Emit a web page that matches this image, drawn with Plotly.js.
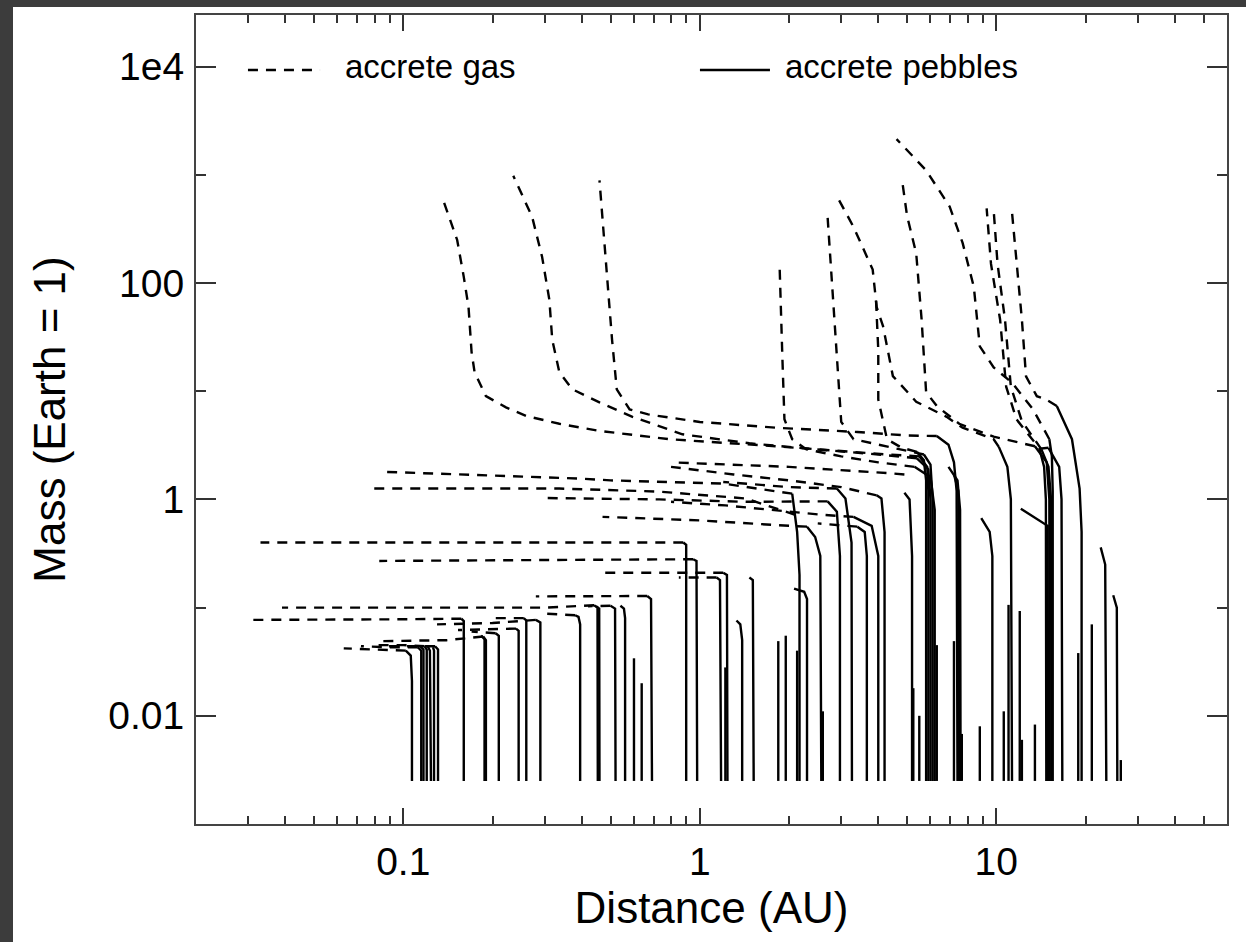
<!DOCTYPE html>
<html>
<head>
<meta charset="utf-8">
<script src="https://cdn.plot.ly/plotly-3.0.1.min.js"></script>
<style>
	html, body { margin: 0; padding: 0; background: #3c3c3c; }
	#sheet { position: absolute; left: 13px; top: 7px; width: 1233px; height: 935px; background: #fff; }
	#graph-0 { width: 1233px; height: 935px; }
</style>
</head>
<body>
<div id="sheet"><div id="graph-0"></div></div>
<script>
// seed mass every embryo starts from (Earth masses)
const M0 = 0.0025;

// solid: pebble accretion, [distance AU, mass Earth]
const pebbleTracks = [
	[[0.102, 0.04], [0.106, 0.036], [0.107, 0.021], [0.107, M0]],
	[[0.112, 0.043], [0.115, 0.04], [0.115, M0]],
	[[0.114, 0.044], [0.117, 0.041], [0.117, M0]],
	[[0.118, 0.044], [0.12, 0.041], [0.12, M0]],
	[[0.121, 0.044], [0.123, 0.04], [0.124, M0]],
	[[0.126, 0.043], [0.127, 0.04], [0.127, M0]],
	[[0.128, 0.044], [0.131, 0.041], [0.131, M0]],
	[[0.157, 0.079], [0.16, 0.075], [0.16, M0]],
	[[0.183, 0.055], [0.188, 0.051], [0.188, M0]],
	[[0.186, 0.054], [0.19, 0.05], [0.19, M0]],
	[[0.205, 0.058], [0.21, 0.055], [0.21, M0]],
	[[0.24, 0.064], [0.245, 0.061], [0.245, M0]],
	[[0.255, 0.08], [0.26, 0.076], [0.26, M0]],
	[[0.28, 0.077], [0.29, 0.073], [0.29, M0]],
	[[0.38, 0.085], [0.39, 0.082], [0.395, 0.07], [0.395, M0]],
	[[0.44, 0.105], [0.452, 0.1], [0.453, M0]],
	[[0.447, 0.103], [0.458, 0.098], [0.459, M0]],
	[[0.5, 0.104], [0.518, 0.098], [0.52, M0]],
	[[0.54, 0.104], [0.555, 0.098], [0.56, 0.08], [0.56, M0]],
	[[0.6, 0.034], [0.6, M0]],
	[[0.637, 0.02], [0.637, M0]],
	[[0.665, 0.128], [0.685, 0.12], [0.69, M0]],
	[[0.88, 0.4], [0.9, 0.38], [0.9, M0]],
	[[0.95, 0.28], [0.975, 0.27], [0.98, M0]],
	[[1.14, 0.19], [1.17, 0.18], [1.18, M0]],
	[[1.2, 0.21], [1.235, 0.2], [1.24, M0]],
	[[1.22, 0.028], [1.22, M0]],
	[[1.33, 0.076], [1.37, 0.07], [1.39, 0.05], [1.39, M0]],
	[[1.47, 0.19], [1.51, 0.18], [1.52, M0]],
	[[1.84, 0.049], [1.84, M0]],
	[[1.95, 0.055], [1.95, M0]],
	[[2.05, 1.13], [2.13, 0.5], [2.17, 0.2], [2.17, M0]],
	[[2.13, 0.04], [2.13, M0]],
	[[2.08, 0.15], [2.25, 0.14], [2.3, 0.12], [2.3, M0]],
	[[2.3, 0.56], [2.45, 0.45], [2.55, 0.3], [2.57, M0]],
	[[2.6, 0.011], [2.6, M0]],
	[[2.7, 0.96], [2.9, 0.77], [2.97, 0.3], [2.97, M0]],
	[[2.9, 1.26], [3.1, 1.02], [3.25, 0.4], [3.26, M0]],
	[[3.3, 0.69], [3.8, 0.57], [4.0, 0.3], [4.0, M0]],
	[[3.4, 0.56], [3.6, 0.5], [3.66, 0.3], [3.66, M0]],
	[[3.95, 1.09], [4.1, 1.02], [4.2, 0.5], [4.2, M0]],
	[[4.9, 1.15], [5.1, 1.0], [5.2, 0.3], [5.2, M0]],
	[[5.25, 0.018], [5.25, M0]],
	[[5.5, 0.01], [5.5, M0]],
	[[5.4, 2.75], [5.7, 2.3], [5.8, 1.5], [5.8, M0]],
	[[5.5, 2.5], [5.85, 2.0], [5.9, 1.2], [5.9, M0]],
	[[5.4, 2.4], [5.9, 1.9], [6.0, 1.0], [6.0, M0]],
	[[5.7, 2.6], [6.0, 2.1], [6.1, 1.0], [6.1, M0]],
	[[5.3, 2.0], [6.0, 1.6], [6.2, 0.8], [6.2, M0]],
	[[6.3, 0.045], [6.3, M0]],
	[[6.3, 3.85], [6.9, 3.2], [7.2, 2.2], [7.35, 1.2], [7.4, M0]],
	[[7.2, 1.7], [7.45, 1.2], [7.5, M0]],
	[[6.9, 2.0], [7.4, 1.5], [7.55, 0.8], [7.58, M0]],
	[[7.2, 0.049], [7.2, M0]],
	[[7.65, 0.0068], [7.65, M0]],
	[[8.8, 0.008], [8.8, M0]],
	[[8.9, 0.67], [9.5, 0.5], [9.7, 0.3], [9.7, M0]],
	[[10.6, 0.011], [10.6, M0]],
	[[11.0, 0.106], [11.0, M0]],
	[[10.2, 3.06], [10.9, 2.0], [11.2, 1.0], [11.3, M0]],
	[[12.0, 0.093], [12.0, M0]],
	[[12.2, 0.006], [12.2, M0]],
	[[13.5, 0.0083], [13.5, M0]],
	[[14.0, 2.9], [14.5, 2.0], [14.7, 1.0], [14.75, M0]],
	[[12.1, 0.82], [14.9, 0.57], [14.95, M0]],
	[[13.5, 3.1], [14.8, 2.2], [15.1, 1.0], [15.15, M0]],
	[[15.1, 3.6], [15.4, 2.5], [15.5, 1.2], [15.5, M0]],
	[[14.2, 2.9], [15.0, 2.0], [15.3, 1.0], [15.35, M0]],
	[[15.0, 3.0], [16.3, 2.0], [16.6, 1.0], [16.7, M0]],
	[[18.9, 0.038], [18.9, M0]],
	[[16.0, 7.3], [18.0, 3.6], [19.1, 1.26], [19.4, 0.5], [19.4, M0]],
	[[21, 0.07], [21, M0]],
	[[22.5, 0.36], [23.3, 0.25], [23.5, M0]],
	[[24.8, 0.13], [25.5, 0.1], [25.6, M0]],
	[[26.3, 0.0039], [26.3, M0]],
];

// dashed: gas accretion while migrating inward, [distance AU, mass Earth]
const gasTracks = [
	[[5.5, 2.5], [4.3, 2.6], [1.8, 3.1], [0.79, 3.6], [0.459, 4.3], [0.336, 5.0], [0.26, 5.9], [0.222, 7.1], [0.19, 9], [0.174, 15], [0.17, 23], [0.166, 60], [0.16, 114], [0.152, 250], [0.136, 596]],
	[[5.4, 2.4], [4.0, 2.6], [2.48, 2.9], [1.47, 3.3], [0.874, 4.0], [0.593, 5.8], [0.459, 7.9], [0.372, 10.4], [0.336, 15], [0.318, 30], [0.311, 70], [0.294, 174], [0.272, 410], [0.235, 980]],
	[[6.3, 3.85], [5.0, 3.9], [3.4, 4.2], [1.8, 4.6], [1.0, 5.2], [0.67, 6.1], [0.58, 6.8], [0.525, 10.4], [0.506, 30], [0.483, 163], [0.459, 890]],
	[[5.3, 2.0], [4.0, 2.2], [3.0, 2.5], [2.29, 2.9], [2.05, 3.6], [1.93, 5.5], [1.9, 20], [1.88, 60], [1.86, 137]],
	[[5.7, 2.6], [4.5, 3.0], [3.3, 3.6], [3.0, 5.2], [2.9, 20], [2.8, 100], [2.7, 400]],
	[[10.2, 3.06], [9.8, 3.6], [7.7, 4.6], [6.8, 5.8], [5.37, 8.0], [4.48, 13.8], [4.15, 40], [3.95, 60], [3.83, 133], [3.3, 330], [2.87, 670]],
	[[5.4, 2.75], [4.8, 3.0], [4.28, 3.6], [4.0, 8.4], [4.0, 24], [3.93, 70]],
	[[13.5, 3.1], [9.8, 3.8], [7.5, 5.0], [6.3, 7.3], [5.8, 9.8], [5.6, 46], [5.37, 188], [5.0, 420], [4.83, 830]],
	[[15.1, 3.6], [13.3, 6.8], [11.3, 12], [9.8, 16.6], [8.8, 26], [8.4, 92], [7.7, 235], [6.96, 510], [5.8, 1100], [4.61, 2140]],
	[[15.0, 3.0], [14.0, 2.94], [11.7, 5.5], [10.8, 11], [10.3, 46], [9.6, 150], [9.28, 490]],
	[[14.2, 2.9], [12.2, 5.3], [11.2, 11], [10.7, 46], [10.1, 150], [9.8, 470]],
	[[16.0, 7.3], [14.7, 8.4], [13.7, 9], [12.6, 13.7], [12.2, 46], [11.7, 150], [11.3, 450]],
	[[2.05, 1.13], [1.2, 1.4], [0.5, 1.5], [0.39, 1.56], [0.085, 1.8]],
	[[2.1, 0.72], [1.43, 1.02], [0.73, 1.18], [0.336, 1.26], [0.078, 1.26]],
	[[2.7, 0.96], [1.43, 0.95], [0.73, 1.0], [0.3, 1.03]],
	[[2.3, 0.56], [2.0, 0.57], [1.0, 0.64], [0.47, 0.69]],
	[[3.3, 0.69], [2.6, 0.72], [1.22, 0.88], [0.8, 0.95]],
	[[3.4, 0.56], [2.5, 0.6]],
	[[2.9, 1.26], [2.0, 1.3], [1.2, 1.45]],
	[[3.95, 1.09], [3.0, 1.3], [2.0, 1.5], [1.3, 1.7], [0.8, 2.0]],
	[[4.9, 1.7], [4.3, 1.75], [2.0, 2.0], [0.8, 2.2]],
	[[0.102, 0.04], [0.08, 0.041], [0.063, 0.042]],
	[[0.112, 0.043], [0.09, 0.043], [0.072, 0.044]],
	[[0.118, 0.044], [0.1, 0.045], [0.078, 0.045]],
	[[0.128, 0.044], [0.1, 0.044], [0.085, 0.044]],
	[[0.157, 0.079], [0.1, 0.078], [0.031, 0.077]],
	[[0.186, 0.054], [0.14, 0.05], [0.084, 0.049]],
	[[0.205, 0.058], [0.17, 0.06]],
	[[0.24, 0.064], [0.2, 0.063], [0.153, 0.062]],
	[[0.255, 0.08], [0.2, 0.08]],
	[[0.28, 0.077], [0.2, 0.072], [0.13, 0.07]],
	[[0.38, 0.085], [0.3, 0.088]],
	[[0.44, 0.105], [0.3, 0.1], [0.039, 0.1]],
	[[0.5, 0.104], [0.42, 0.103]],
	[[0.665, 0.128], [0.4, 0.128], [0.28, 0.127]],
	[[0.88, 0.4], [0.3, 0.4], [0.033, 0.4]],
	[[0.95, 0.28], [0.3, 0.275], [0.083, 0.27]],
	[[1.14, 0.19], [0.85, 0.19]],
	[[1.2, 0.21], [0.8, 0.21], [0.47, 0.21]],
];

const xTickVals = [0.1, 1, 10];
const xTickText = ["0.1", "1", "10"];
const xMinorVals = [
	0.03, 0.04, 0.05, 0.06, 0.07, 0.08, 0.09,
	0.2, 0.3, 0.4, 0.5, 0.6, 0.7, 0.8, 0.9,
	2, 3, 4, 5, 6, 7, 8, 9,
	20, 30, 40, 50,
];
const yTickVals = [0.01, 1, 100, 10000];
const yTickText = ["0.01", "1", "100", "1e4"];
const yMinorVals = [0.001, 0.1, 10, 1000];
const legendLabels = ["accrete gas", "accrete pebbles"];

const FONT = "Liberation Sans, Arial, Helvetica, sans-serif";
const DASH = "10px,8px";
const LINE_W = 2.4;
const graphDiv = document.getElementById("graph-0");

// join tracks into one trace, null between tracks so each is its own path
function joinTracks(tracks) {
	const x = [];
	const y = [];
	tracks.forEach(track => {
		track.forEach(([d, m]) => {
			x.push(d);
			y.push(m);
		});
		x.push(null);
		y.push(null);
	});
	return { x, y };
}

const gas = joinTracks(gasTracks);
const pebbles = joinTracks(pebbleTracks);

const traces = [
	{
		...gas,
		type: "scatter",
		mode: "lines",
		name: legendLabels[0],
		connectgaps: false,
		line: { color: "#000", width: LINE_W, dash: DASH },
	},
	{
		...pebbles,
		type: "scatter",
		mode: "lines",
		name: legendLabels[1],
		connectgaps: false,
		line: { color: "#000", width: LINE_W },
	},
];

// legend drawn by hand: sample line + label, in paper coords
const legendKeys = [
	{ x0: 0.0504, x1: 0.1203, tx: 0.1426, dash: DASH },
	{ x0: 0.4888, x1: 0.5567, tx: 0.5693, dash: "solid" },
];
const legendY = 0.932;

const shapes = legendKeys.map(k => ({
	type: "line",
	xref: "paper",
	yref: "paper",
	x0: k.x0,
	x1: k.x1,
	y0: legendY,
	y1: legendY,
	line: { color: "#000", width: LINE_W, dash: k.dash },
}));

const annotations = legendKeys.map((k, i) => ({
	xref: "paper",
	yref: "paper",
	x: k.tx,
	y: legendY + 0.004,
	xanchor: "left",
	yanchor: "middle",
	showarrow: false,
	text: legendLabels[i],
	font: { family: FONT, size: 33, color: "#000" },
}));

const axisCommon = {
	type: "log",
	showline: true,
	linecolor: "#444",
	linewidth: 2,
	mirror: "ticks",
	ticks: "inside",
	tickcolor: "#333",
	tickwidth: 2,
	showgrid: false,
	zeroline: false,
	tickmode: "array",
	tickfont: { family: FONT, size: 39, color: "#000" },
	automargin: false,
};

const layout = {
	width: 1233,
	height: 935,
	margin: { l: 183, r: 19, t: 8, b: 118 },
	paper_bgcolor: "#fff",
	plot_bgcolor: "#fff",
	font: { family: FONT, color: "#000" },
	showlegend: false,
	shapes,
	annotations,
	xaxis: {
		...axisCommon,
		range: [Math.log10(0.02), Math.log10(60)],
		tickvals: xTickVals,
		ticktext: xTickText,
		ticklen: 16,
		ticklabelstandoff: 2,
		minor: { tickvals: xMinorVals, ticks: "inside", ticklen: 8, tickcolor: "#333", tickwidth: 2 },
		title: { text: "Distance (AU)", font: { family: FONT, size: 44, color: "#000" }, standoff: 0 },
	},
	yaxis: {
		...axisCommon,
		range: [-3, Math.log10(30000)],
		tickvals: yTickVals,
		ticktext: yTickText,
		ticklen: 20,
		ticklabelstandoff: 2,
		minor: { tickvals: yMinorVals, ticks: "inside", ticklen: 10, tickcolor: "#333", tickwidth: 2 },
		title: { text: "Mass (Earth = 1)", font: { family: FONT, size: 44, color: "#000" }, standoff: 29 },
	},
};

Plotly.newPlot(graphDiv, traces, layout, { displayModeBar: false, staticPlot: true });
</script>
</body>
</html>
